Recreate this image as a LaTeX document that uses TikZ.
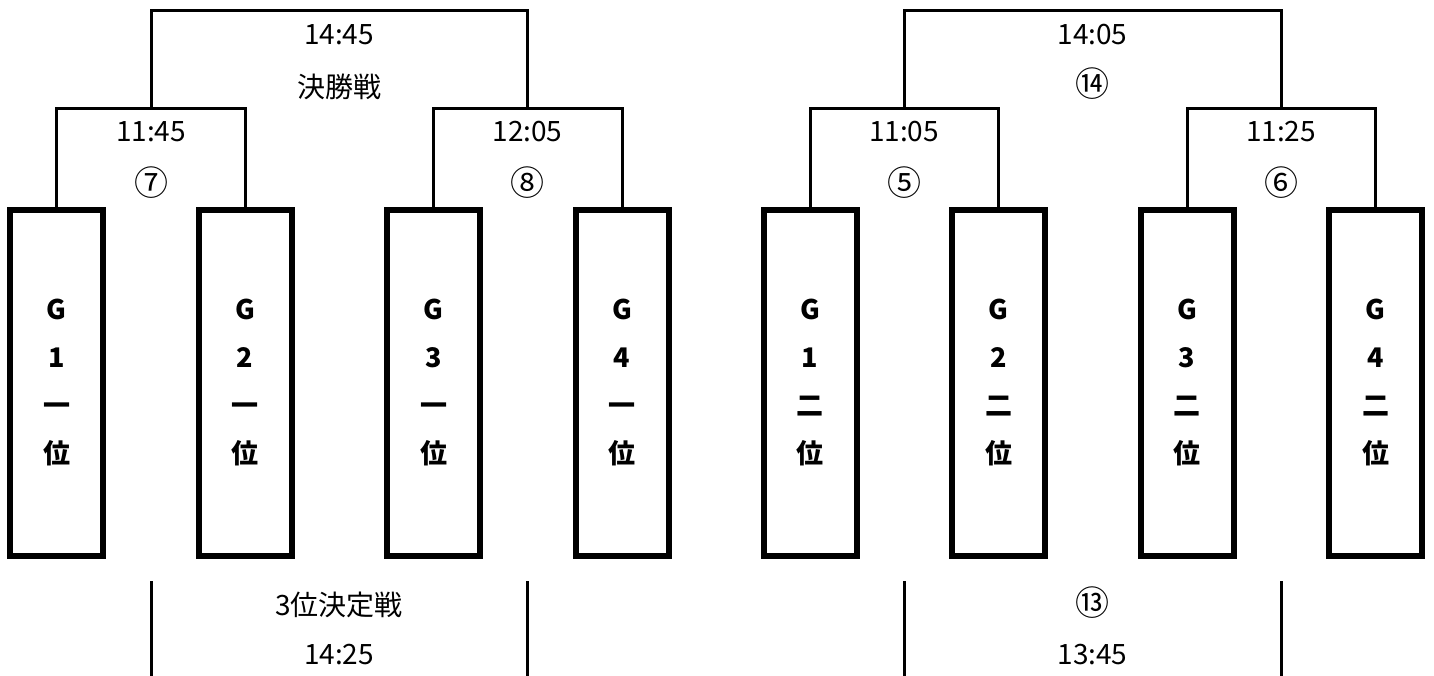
\documentclass[tikz,border=0pt]{standalone}
\usepackage{fontspec}
\setmainfont{Noto Sans CJK JP}
\usepackage{tikz}
\usetikzlibrary{positioning}

\begin{document}
\begin{tikzpicture}
[x=1pt, y=-1pt,
  teambox/.style={rectangle, draw=black, line width=6pt, minimum width=93pt,
    minimum height=346pt, inner sep=0pt, align=center,
    font=\fontsize{27}{48}\selectfont\bfseries},
  bracket/.style={draw=black, line width=3pt},
  timelabel/.style={font=\fontsize{28}{32}\selectfont, inner sep=0pt},
  gamelabel/.style={font=\fontsize{34}{36}\selectfont, inner sep=0pt}]
  \useasboundingbox (0,0) rectangle (1434,676);
  \foreach \i/\x in {1/56.5, 2/245, 3/433.5, 4/622}
    \node[teambox] (L\i) at (\x,383) {G\\\i\\一\\位};
  \foreach \i/\x in {1/810, 2/998.5, 3/1187, 4/1375.5}
    \node[teambox] (R\i) at (\x,383) {G\\\i\\二\\位};
  \coordinate (Lm1) at (151,109);
  \coordinate (Lm2) at (527.5,109);
  \coordinate (Lf) at (339,11);
  \coordinate (Rm1) at (904,109);
  \coordinate (Rm2) at (1281,109);
  \coordinate (Rf) at (1092.5,11);
  \draw[bracket] (L1.north) |- (Lm1) -| (L2.north);
  \draw[bracket] (L3.north) |- (Lm2) -| (L4.north);
  \draw[bracket] (Lm1) |- (Lf) -| (Lm2);
  \draw[bracket] (R1.north) |- (Rm1) -| (R2.north);
  \draw[bracket] (R3.north) |- (Rm2) -| (R4.north);
  \draw[bracket] (Rm1) |- (Rf) -| (Rm2);
  \coordinate (Lb1) at (151,581);
  \coordinate (Lb2) at (527.5,581);
  \coordinate (Rb1) at (904,581);
  \coordinate (Rb2) at (1281,581);
  \draw[bracket] (Lb1) -- (Lb1 |- 0,676);
  \draw[bracket] (Lb2) -- (Lb2 |- 0,676);
  \draw[bracket] (Rb1) -- (Rb1 |- 0,676);
  \draw[bracket] (Rb2) -- (Rb2 |- 0,676);
  \node[timelabel] (LfT) at (339,35) {14:45};
  \node[timelabel] (LfN) at (339,87) {決勝戦};
  \node[timelabel] (Lm1T) at (151,132) {11:45};
  \node[gamelabel] (Lm1N) at (151,183) {⑦};
  \node[timelabel] (Lm2T) at (527.5,132) {12:05};
  \node[gamelabel] (Lm2N) at (527.5,183) {⑧};
  \node[timelabel] (LbN) at (339,605) {3位決定戦};
  \node[timelabel] (LbT) at (339,655) {14:25};
  \node[timelabel] (RfT) at (1092.5,35) {14:05};
  \node[gamelabel] (RfN) at (1092.5,84) {⑭};
  \node[timelabel] (Rm1T) at (904,132) {11:05};
  \node[gamelabel] (Rm1N) at (904,183) {⑤};
  \node[timelabel] (Rm2T) at (1281,132) {11:25};
  \node[gamelabel] (Rm2N) at (1281,183) {⑥};
  \node[gamelabel] (RbN) at (1092.5,603) {⑬};
  \node[timelabel] (RbT) at (1092.5,655) {13:45};
\end{tikzpicture}
\end{document}
